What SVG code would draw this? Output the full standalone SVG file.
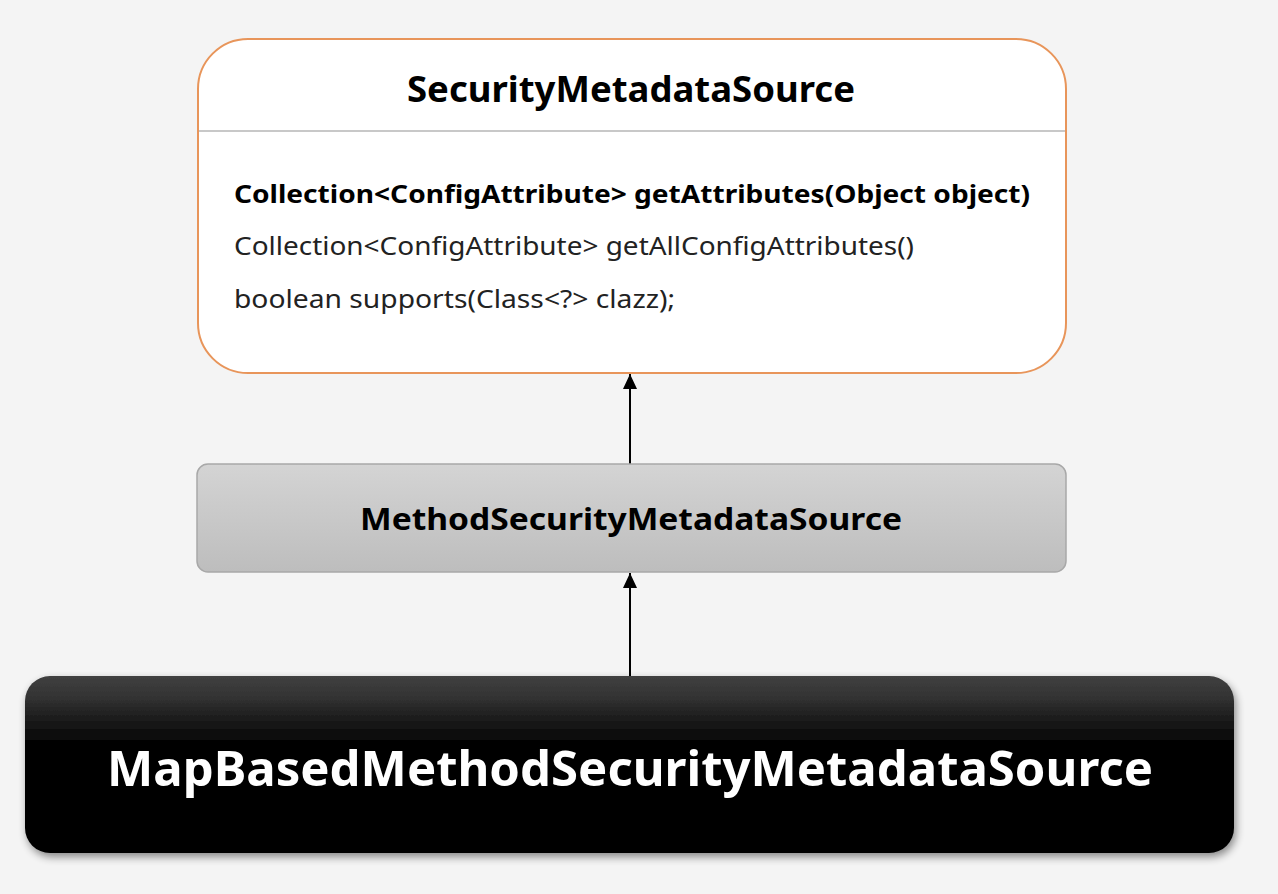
<svg xmlns="http://www.w3.org/2000/svg" width="1278" height="894" viewBox="0 0 1278 894">
<defs>
<style>
text{font-family:"Noto Sans","Open Sans","Liberation Sans",sans-serif}
.b{font-weight:bold}
.conn{stroke:#000;stroke-width:2;fill:none}
</style>
<linearGradient id="gGray" x1="0" y1="0" x2="0" y2="1">
<stop offset="0" stop-color="#d4d4d4"/><stop offset="1" stop-color="#bdbdbd"/>
</linearGradient>
<linearGradient id="gBlack" x1="0" y1="0" x2="0" y2="1">
<stop offset="0" stop-color="#404040"/><stop offset="0.12" stop-color="#333"/><stop offset="0.25" stop-color="#1a1a1a"/><stop offset="0.4" stop-color="#000"/><stop offset="1" stop-color="#000"/>
</linearGradient>
<filter id="sh" x="-5%" y="-10%" width="110%" height="130%">
<feGaussianBlur in="SourceAlpha" stdDeviation="4"/>
<feOffset dx="2" dy="4" result="o"/>
<feComponentTransfer><feFuncA type="linear" slope="0.45"/></feComponentTransfer>
<feMerge><feMergeNode/><feMergeNode in="SourceGraphic"/></feMerge>
</filter>
<marker id="arr" markerWidth="16" markerHeight="16" viewBox="0 0 16 16" refX="15" refY="8" orient="auto" markerUnits="userSpaceOnUse">
<path d="M0,1 L15,8 L0,15 Z" fill="#000"/>
</marker>
</defs>
<rect width="1278" height="894" fill="#f4f4f4"/>
<g id="connectors">
<line class="conn" x1="630" y1="464" x2="630" y2="374" marker-end="url(#arr)"/>
<line class="conn" x1="630" y1="676" x2="630" y2="573" marker-end="url(#arr)"/>
</g>
<g id="SecurityMetadataSource">
<rect x="198" y="39" width="868" height="334" rx="50" ry="50" fill="#fff" stroke="#e8955a" stroke-width="2"/>
<line x1="199" y1="131" x2="1065" y2="131" stroke="#c8c8c8" stroke-width="2"/>
<text x="407" y="102" class="b" font-size="35" textLength="448" lengthAdjust="spacingAndGlyphs">SecurityMetadataSource</text>
<text x="234" y="203" class="b" font-size="25" textLength="796" lengthAdjust="spacingAndGlyphs">Collection&lt;ConfigAttribute&gt; getAttributes(Object object)</text>
<text x="234" y="255" font-size="25" fill="#222" textLength="680" lengthAdjust="spacingAndGlyphs">Collection&lt;ConfigAttribute&gt; getAllConfigAttributes()</text>
<text x="234" y="308" font-size="25" fill="#222" textLength="441" lengthAdjust="spacingAndGlyphs">boolean supports(Class&lt;?&gt; clazz);</text>
</g>
<g id="MethodSecurityMetadataSource">
<rect x="197" y="464" width="869" height="108" rx="11" ry="11" fill="url(#gGray)" stroke="#a8a8a8" stroke-width="1.5"/>
<text x="360" y="530" class="b" font-size="30" textLength="542" lengthAdjust="spacingAndGlyphs">MethodSecurityMetadataSource</text>
</g>
<g id="MapBasedMethodSecurityMetadataSource">
<rect x="25" y="676" width="1209" height="177" rx="25" ry="25" fill="url(#gBlack)" filter="url(#sh)"/>
<text x="107" y="786" class="b" font-size="49" fill="#fff" textLength="1046" lengthAdjust="spacingAndGlyphs">MapBasedMethodSecurityMetadataSource</text>
</g>
</svg>
